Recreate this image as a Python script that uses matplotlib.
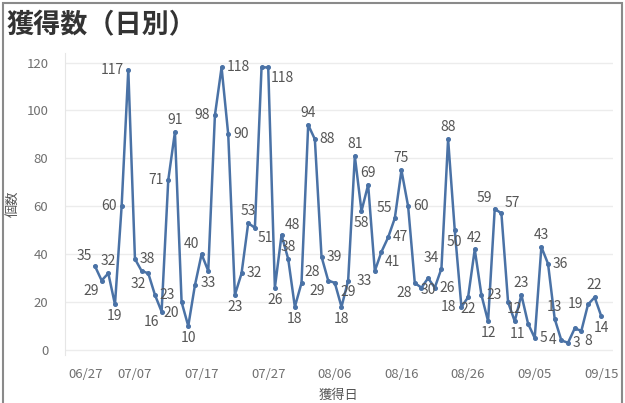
import matplotlib
matplotlib.use("Agg")
import matplotlib.pyplot as plt
import pandas as pd
from matplotlib.patches import Rectangle

plt.rcParams['font.family'] = ['Noto Sans CJK JP', 'DejaVu Sans']

# daily counts, 07/01 .. 09/15
start_date = "2023-07-01"
counts = [35, 29, 32, 19, 60, 117, 38, 33, 32, 23,
          16, 71, 91, 20, 10, 27, 40, 33, 98, 118,
          90, 23, 32, 53, 51, 118, 118, 26, 48, 38,
          18, 28, 94, 88, 39, 29, 28, 18, 29, 81,
          58, 69, 33, 41, 47, 55, 75, 60, 28, 26,
          30, 26, 34, 88, 50, 18, 22, 42, 23, 12,
          59, 57, 20, 12, 23, 11, 5, 43, 36, 13,
          4, 3, 9, 8, 19, 22, 14]
tick_dates = ["06/27", "07/07", "07/17", "07/27", "08/06", "08/16", "08/26", "09/05", "09/15"]
y_ticks = [0, 20, 40, 60, 80, 100, 120]

title = "獲得数（日別）"
x_title = "獲得日"
y_title = "個数"

# where each value label sits relative to its point (None = hidden)
label_pos = ['al', 'bl', 'a', 'b', 'l', 'l', 'r', None, 'bl', 'r',
             'bl', 'l', 'a', 'bl', 'b', None, 'al', 'b', 'l', 'r',
             'r', 'b', 'r', 'a', 'br', None, 'br', 'b', 'ar', 'a',
             'b', 'ar', 'a', 'r', 'r', 'bl', None, 'b', 'b', 'a',
             'b', 'a', 'bl', 'br', 'r', 'al', 'a', 'r', 'bl', None,
             'b', 'r', 'al', 'a', 'b', 'l', 'b', 'a', 'r', 'b',
             'al', 'ar', None, 'a', 'a', 'bl', 'r', 'a', 'r', 'a',
             'l', 'r', None, 'br', 'l', 'a', 'b']

dates = pd.date_range(start_date, periods=len(counts), freq="D")
year = dates[0].year

LINE = "#4a72a6"
TEXT = "#555555"

fig = plt.figure(figsize=(6.25, 4.03), dpi=100)
ax = fig.add_axes([65 / 625, (403 - 355) / 403, 548 / 625, 302 / 403])

ax.plot(dates, counts, color=LINE, lw=1.8, marker="o", ms=2.6, zorder=3)

d = 3.5
offsets = {
    'a': (0, d, 'center', 'bottom'),
    'b': (0, -d, 'center', 'top'),
    'l': (-d, 0, 'right', 'center'),
    'r': (d, 0, 'left', 'center'),
    'al': (-2, d - 1, 'right', 'bottom'),
    'ar': (2, d - 1, 'left', 'bottom'),
    'bl': (-2, -d + 1, 'right', 'top'),
    'br': (2, -d + 1, 'left', 'top'),
}
for dt, v, p in zip(dates, counts, label_pos):
    if p is None:
        continue
    dx, dy, ha, va = offsets[p]
    ax.annotate(str(v), (dt, v), xytext=(dx, dy), textcoords="offset points",
                ha=ha, va=va, fontsize=10, color=TEXT, zorder=4)

tick_ts = [pd.Timestamp(f"{year}-{t.replace('/', '-')}") for t in tick_dates]
ax.set_xticks(tick_ts)
ax.set_xticklabels(tick_dates)
ax.set_xlim(pd.Timestamp(f"{year}-06-26 12:00"), pd.Timestamp(f"{year}-09-16 18:00"))
ax.get_xticklabels()[0].set_horizontalalignment("left")

ax.set_yticks(y_ticks)
ax.set_ylim(-2.1, 124.0)

ax.tick_params(axis="both", length=0, labelsize=9.5, colors="#707070")
ax.tick_params(axis="x", pad=9)
ax.tick_params(axis="y", pad=12)
ax.grid(axis="y", color="#ececec", lw=1)
for s in ["top", "right", "bottom"]:
    ax.spines[s].set_visible(False)
ax.spines["left"].set_color("#e6e6e6")

ax.set_xlabel(x_title, fontsize=9.5, color="#555555", labelpad=6)
ax.set_ylabel(y_title, fontsize=9.5, color="#555555")
ax.yaxis.set_label_coords(-45 / 548, 0.5)

fig.text(7 / 625, 1 - 25 / 403, title, fontsize=19.5, fontweight="bold",
         color="#333333", va="center", ha="left")

# outer frame
fig.patches.append(Rectangle((3 / 625, -0.01), 619 / 625, 1 - 3 / 403 + 0.01,
                             transform=fig.transFigure, fill=False,
                             edgecolor="#8a8a8a", lw=1.5))

fig.savefig("out.png", dpi=100)
